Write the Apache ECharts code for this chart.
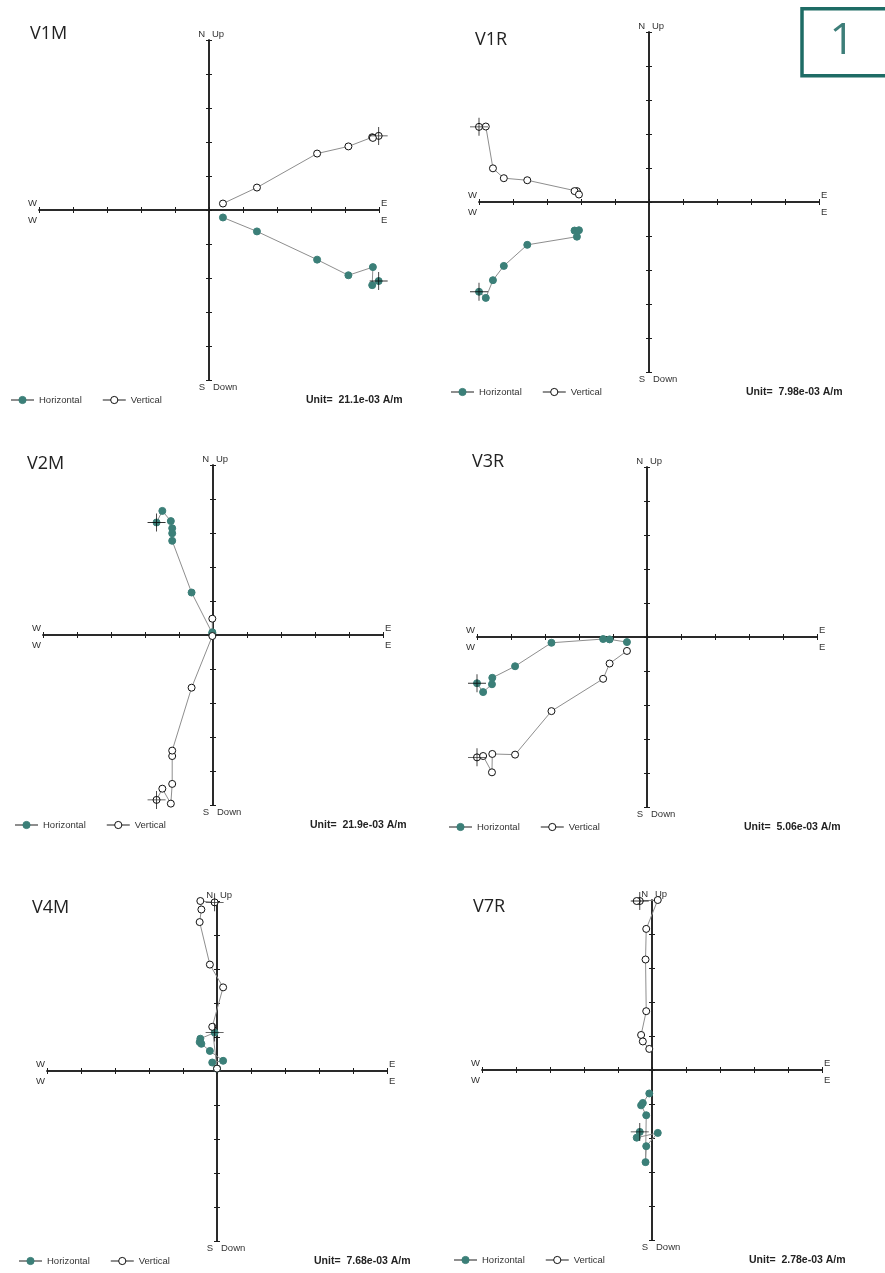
<!DOCTYPE html>
<html>
<head>
<meta charset="utf-8">
<script src="https://cdn.jsdelivr.net/npm/echarts@6.0.0/dist/echarts.min.js"></script>
<style>
  html, body { margin: 0; padding: 0; background: #ffffff; }
  #chart { width: 885px; height: 1273px; }
</style>
</head>
<body>
<div id="chart"></div>
<script>
// Orthogonal (Zijderveld) projections of demagnetisation steps.
// East component on x; north (horizontal plane) and up (vertical plane) on y.
// Values are in plot units: one tick = the stated unit.

const sampleNames = ['V1M', 'V1R', 'V2M', 'V3R', 'V4M', 'V7R'];
const unitLabels = ['21.1e-03', '7.98e-03', '21.9e-03', '5.06e-03', '7.68e-03', '2.78e-03'];
const axisMin = -5;
const axisMax = 5;
const tickStep = 1;

const v1mEast  = [4.99, 4.80, 4.82, 4.10, 3.18, 1.41, 0.41];
const v1mNorth = [-2.09, -2.21, -1.68, -1.92, -1.46, -0.63, -0.22];
const v1mUp    = [2.18, 2.14, 2.12, 1.87, 1.66, 0.66, 0.19];

const v1rEast  = [-5.00, -4.80, -4.59, -4.27, -3.58, -2.12, -2.19, -2.06];
const v1rNorth = [-2.64, -2.82, -2.30, -1.88, -1.26, -1.02, -0.84, -0.83];
const v1rUp    = [2.21, 2.22, 0.99, 0.70, 0.64, 0.32, 0.32, 0.22];

const v2mEast  = [-1.66, -1.49, -1.24, -1.20, -1.20, -1.20, -0.63, -0.02, -0.02];
const v2mNorth = [3.31, 3.65, 3.35, 3.14, 2.99, 2.77, 1.25, 0.05, 0.08];
const v2mUp    = [-4.85, -4.52, -4.96, -4.38, -3.56, -3.40, -1.55, -0.03, 0.48];

const v3rEast  = [-5.00, -4.82, -4.56, -4.55, -3.88, -2.81, -1.29, -1.10, -0.59];
const v3rNorth = [-1.36, -1.62, -1.39, -1.20, -0.86, -0.17, -0.06, -0.07, -0.15];
const v3rUp    = [-3.54, -3.50, -3.98, -3.44, -3.46, -2.18, -1.23, -0.78, -0.41];

const v4mEast  = [-0.07, -0.49, -0.46, -0.51, -0.21, 0.18, -0.14, 0.00];
const v4mNorth = [1.13, 0.95, 0.80, 0.85, 0.59, 0.30, 0.25, 0.07];
const v4mUp    = [4.96, 5.00, 4.75, 4.38, 3.13, 2.46, 1.30, 0.07];

const v7rEast  = [-0.36, -0.45, 0.17, -0.17, -0.19, -0.17, -0.32, -0.27, -0.08];
const v7rNorth = [-1.82, -1.99, -1.85, -2.24, -2.71, -1.33, -1.04, -0.97, -0.69];
const v7rUp    = [4.97, 4.97, 5.00, 4.15, 3.25, 1.73, 1.03, 0.84, 0.62];

const eastSets  = [v1mEast, v1rEast, v2mEast, v3rEast, v4mEast, v7rEast];
const northSets = [v1mNorth, v1rNorth, v2mNorth, v3rNorth, v4mNorth, v7rNorth];
const upSets    = [v1mUp, v1rUp, v2mUp, v3rUp, v4mUp, v7rUp];

// Page layout of the six square plots
const plotLeft  = [39, 479, 43, 477, 47, 482];
const plotTop   = [40, 32, 465, 467, 901, 900];
const titlePos  = [[30, 34], [475, 39.5], [27, 464], [472, 462], [32, 907.5], [473, 907]];
const PLOT = 340;

const TEAL = '#3b7f78';
const LINE_GREY = '#8e8e8e';
const AXIS_INK = '#1c1c1c';
const SMALL_FONT = '"Liberation Sans", Arial, sans-serif';
const TITLE_FONT = '"Open Sans", "Noto Sans", sans-serif';

const grid = [], xAxis = [], yAxis = [], series = [], legend = [], graphic = [];

function axisSpec(i, position) {
  return {
    gridIndex: i,
    type: 'value',
    min: axisMin,
    max: axisMax,
    interval: tickStep,
    position: position,
    axisLine: { show: true, onZero: true, lineStyle: { color: AXIS_INK, width: 1.5 } },
    axisTick: { show: true, length: 3, lineStyle: { color: AXIS_INK, width: 1 } },
    axisLabel: { show: false },
    splitLine: { show: false }
  };
}

function label(text, x, y, align, opts) {
  opts = opts || {};
  return {
    type: 'text',
    x: x,
    y: y,
    silent: true,
    style: {
      text: text,
      fill: opts.fill || '#333333',
      font: opts.font || ('9.5px ' + SMALL_FONT),
      align: align,
      verticalAlign: 'middle'
    }
  };
}

// NRM step marker: thin cross
const crossPath = 'path://M-0.05,-1L0.05,-1L0.05,1L-0.05,1ZM-1,-0.05L1,-0.05L1,0.05L-1,0.05Z';

sampleNames.forEach(function (name, i) {
  const left = plotLeft[i];
  const top = plotTop[i];
  const cx = left + PLOT / 2;
  const cy = top + PLOT / 2;
  const bottom = top + PLOT;
  const east = eastSets[i], north = northSets[i], up = upSets[i];

  grid.push({ left: left, top: top, width: PLOT, height: PLOT, containLabel: false, outerBoundsMode: 'none' });
  xAxis.push(axisSpec(i, 'bottom'), axisSpec(i, 'top'));
  yAxis.push(axisSpec(i, 'left'), axisSpec(i, 'right'));

  const ax = 2 * i;
  series.push({
    name: 'Horizontal',
    type: 'line',
    xAxisIndex: ax,
    yAxisIndex: ax,
    data: east.map(function (e, k) { return [e, north[k]]; }),
    symbol: 'circle',
    symbolSize: 7,
    showAllSymbol: true,
    itemStyle: { color: TEAL, borderColor: TEAL, borderWidth: 1 },
    lineStyle: { color: LINE_GREY, width: 1 },
    z: 3
  });
  series.push({
    name: 'Vertical',
    type: 'line',
    xAxisIndex: ax,
    yAxisIndex: ax,
    data: east.map(function (e, k) { return [e, up[k]]; }),
    symbol: 'circle',
    symbolSize: 7,
    showAllSymbol: true,
    itemStyle: { color: '#ffffff', borderColor: '#111111', borderWidth: 1 },
    lineStyle: { color: LINE_GREY, width: 1 },
    z: 3
  });
  series.push({
    name: 'NRM',
    type: 'scatter',
    xAxisIndex: ax,
    yAxisIndex: ax,
    data: [[east[0], north[0]], [east[0], up[0]]],
    symbol: crossPath,
    symbolSize: 18,
    itemStyle: { color: '#000000' },
    z: 5
  });

  legend.push({
    data: [
      { name: 'Horizontal', itemStyle: { color: TEAL, borderColor: TEAL, borderWidth: 1 } },
      { name: 'Vertical', itemStyle: { color: '#ffffff', borderColor: '#111111', borderWidth: 1 } }
    ],
    left: left - 29,
    top: bottom + 15,
    padding: 0,
    itemWidth: 23,
    itemHeight: 9,
    itemGap: 20,
    selectedMode: false,
    textStyle: { fontSize: 9.5, color: '#333333', fontFamily: SMALL_FONT }
  });

  graphic.push(
    label(name, titlePos[i][0], titlePos[i][1], 'left', { font: '18px ' + TITLE_FONT, fill: '#222222' }),
    label('N', cx - 4, top - 5.5, 'right'),
    label('Up', cx + 3, top - 5.5, 'left'),
    label('S', cx - 4, bottom + 7.5, 'right'),
    label('Down', cx + 4, bottom + 7.5, 'left'),
    label('W', left - 2, cy - 6.5, 'right'),
    label('W', left - 2, cy + 10, 'right'),
    label('E', left + PLOT + 2, cy - 7, 'left'),
    label('E', left + PLOT + 2, cy + 10, 'left'),
    label('Unit=  ' + unitLabels[i] + ' A/m', left + 267, bottom + 20, 'left',
          { font: 'bold 10.5px ' + SMALL_FONT, fill: '#222222' })
  );
});

// Figure number box
graphic.push(
  {
    type: 'rect',
    silent: true,
    shape: { x: 802, y: 8.7, width: 100, height: 67 },
    style: { fill: '#ffffff', stroke: '#1e6c65', lineWidth: 3.5 }
  },
  label('1', 842, 41, 'center', { font: '44px ' + TITLE_FONT, fill: '#3d7e79' })
);

const chart = echarts.init(document.getElementById('chart'), null, { renderer: 'canvas' });
chart.setOption({
  backgroundColor: '#ffffff',
  animation: false,
  tooltip: { show: false },
  grid: grid,
  xAxis: xAxis,
  yAxis: yAxis,
  legend: legend,
  series: series,
  graphic: graphic
});
</script>
</body>
</html>
